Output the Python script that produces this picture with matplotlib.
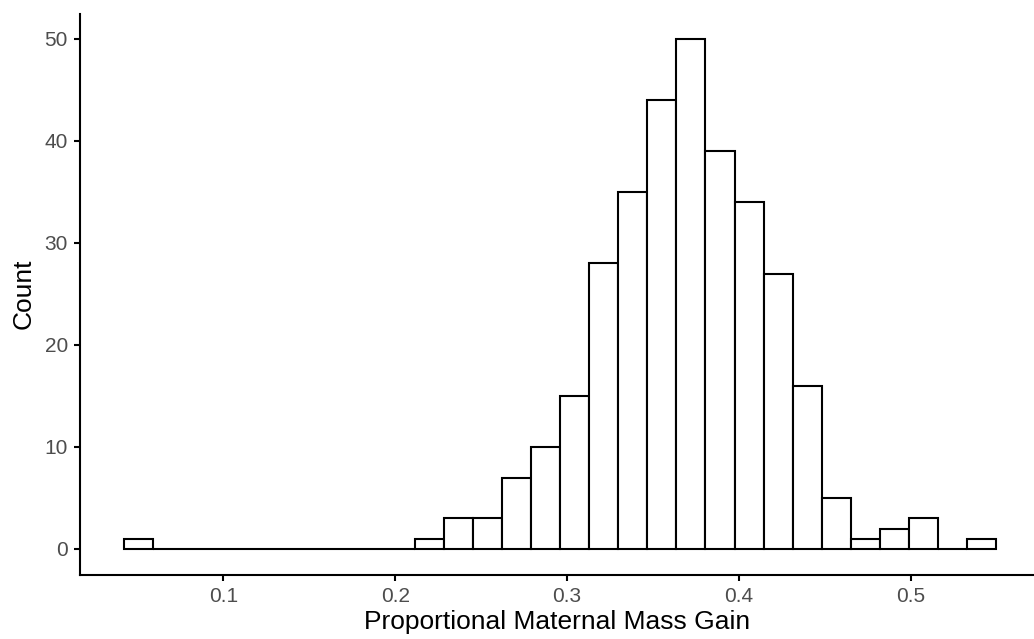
import numpy as np
import matplotlib
matplotlib.use("Agg")
import matplotlib.pyplot as plt

# Histogram data (30 bins)
bin_start = 0.042
bin_end = 0.5497
counts = [1, 0, 0, 0, 0, 0, 0, 0, 0, 0,
          1, 3, 3, 7, 10, 15, 28, 35, 44, 50,
          39, 34, 27, 16, 5, 1, 2, 3, 0, 1]
x_ticks = [0.1, 0.2, 0.3, 0.4, 0.5]
x_tick_labels = ["0.1", "0.2", "0.3", "0.4", "0.5"]
y_ticks = [0, 10, 20, 30, 40, 50]
x_label = "Proportional Maternal Mass Gain"
y_label = "Count"

plt.rcParams['font.family'] = ['Liberation Sans', 'DejaVu Sans']

W, H = 1034, 639
fig = plt.figure(figsize=(W / 100, H / 100), dpi=100)
left_px, top_px, bottom_px = 80, 13.5, 574.5
right_px = W
ax = fig.add_axes([left_px / W, 1 - bottom_px / H, (right_px - left_px) / W, (bottom_px - top_px) / H])

edges = np.linspace(bin_start, bin_end, len(counts) + 1)
ax.hist(edges[:-1], bins=edges, weights=counts, facecolor='white', edgecolor='black', linewidth=1.5)

# ggplot-like 5% expansion
rng = bin_end - bin_start
xmin = bin_start - 0.05 * rng
px_per_unit = 1719.0
xmax = xmin + (right_px - left_px) / px_per_unit
ax.set_xlim(xmin, xmax)
ax.set_ylim(-2.5, 52.5)

ax.set_xticks(x_ticks)
ax.set_xticklabels(x_tick_labels)
ax.set_yticks(y_ticks)

for s in ['top', 'right']:
    ax.spines[s].set_visible(False)
for s in ['left', 'bottom']:
    ax.spines[s].set_linewidth(1.5)
    ax.spines[s].set_color('black')

ax.tick_params(axis='both', length=4.3, width=1.5, color='black', labelcolor='#4D4D4D', labelsize=15, pad=4.5)

ax.set_xlabel(x_label, fontsize=19, color='black', labelpad=3)
ax.set_ylabel(y_label, fontsize=19, color='black', labelpad=6)

fig.savefig("out.png", dpi=100)
